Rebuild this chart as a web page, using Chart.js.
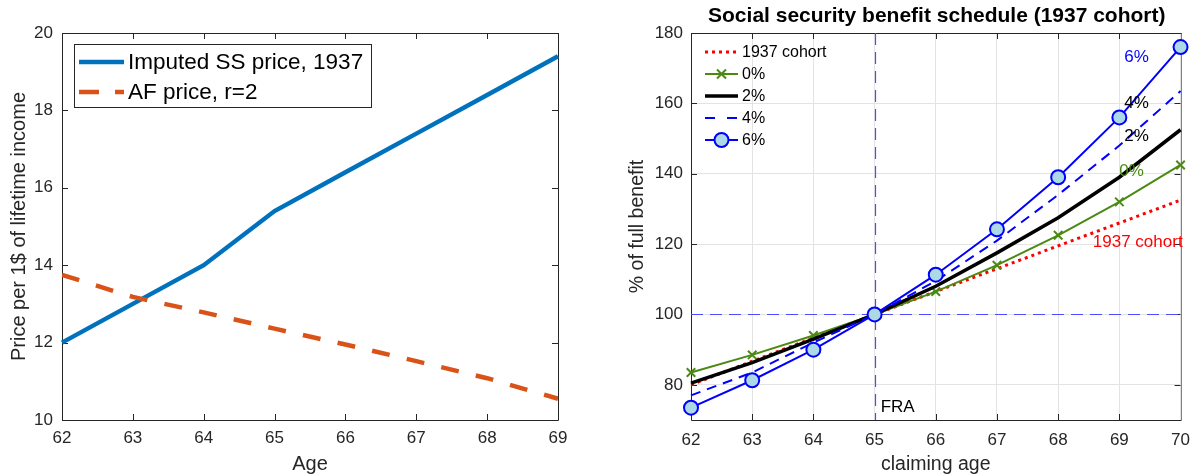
<!DOCTYPE html>
<html>
<head>
<meta charset="utf-8">
<script src="https://cdn.jsdelivr.net/npm/chart.js@4.4.0/dist/chart.umd.min.js"></script>
<style>
  body { margin: 0; background: #fff; }
  #wrap { position: relative; width: 1200px; height: 476px; }
  .panel { position: absolute; top: 0; width: 600px; height: 476px; }
</style>
</head>
<body>
<div id="wrap">
  <div class="panel" style="left:0"><canvas id="left" width="600" height="476"></canvas></div>
  <div class="panel" style="left:600px"><canvas id="right" width="600" height="476"></canvas></div>
</div>
<script>
// Left panel: price per 1$ of lifetime income
const ages = [62, 63, 64, 65, 66, 67, 68, 69];
const ssPrice = [12.0, 13.0, 14.0, 15.4, 16.4, 17.4, 18.4, 19.4];
const afPrice = [13.75, 13.18, 12.78, 12.36, 11.95, 11.52, 11.08, 10.55];

// Right panel: % of full benefit by claiming age
const claimAges = [62, 63, 64, 65, 66, 67, 68, 69, 70];
const cohort1937 = [80.0, 86.7, 93.3, 100, 106.5, 113.0, 119.5, 126.0, 132.5];
const rate0 = [83.5, 88.5, 94.0, 100, 106.5, 114.0, 122.5, 132.0, 142.5];
const rate2 = [80.5, 86.3, 93.0, 100, 108.0, 117.5, 127.5, 139.0, 152.5];
const rate4 = [77.0, 83.5, 92.0, 100, 109.5, 121.0, 134.0, 148.0, 163.5];
const rate6 = [73.5, 81.3, 90.0, 100, 111.3, 124.2, 139.0, 156.0, 176.0];
const benefitTicks = [80, 100, 120, 140, 160, 180];

const FONT = '"Liberation Sans", Arial, sans-serif';
const AXIS = '#262626';

const toXY = (xs, ys) => xs.map((x, i) => ({ x, y: ys[i] }));

/**
 * MATLAB-like box with inward tick marks
 */
const boxPlugin = {
  id: 'box',
  beforeDatasetsDraw(chart, args, opts) {
    const { ctx, chartArea: a, scales } = chart;
    ctx.save();
    ctx.lineWidth = 1;
    ctx.strokeStyle = AXIS;
    const len = 6;
    scales.x.ticks.forEach(t => {
      const px = Math.round(scales.x.getPixelForValue(t.value)) + 0.5;
      ctx.beginPath();
      ctx.moveTo(px, a.bottom); ctx.lineTo(px, a.bottom - len);
      ctx.moveTo(px, a.top); ctx.lineTo(px, a.top + len);
      ctx.stroke();
    });
    scales.y.ticks.forEach(t => {
      const py = Math.round(scales.y.getPixelForValue(t.value)) + 0.5;
      ctx.beginPath();
      ctx.moveTo(a.left, py); ctx.lineTo(a.left + len, py);
      ctx.moveTo(a.right, py); ctx.lineTo(a.right - len, py);
      ctx.stroke();
    });
    const l = Math.round(a.left) + 0.5, r = Math.round(a.right) + 0.5;
    const t = Math.round(a.top) + 0.5, b = Math.round(a.bottom) + 0.5;
    ctx.beginPath();
    ctx.moveTo(l, t); ctx.lineTo(l, b); ctx.lineTo(r, b);
    ctx.moveTo(l, t); ctx.lineTo(r, t);
    ctx.stroke();
    ctx.strokeStyle = opts.rightColor || AXIS;
    ctx.beginPath();
    ctx.moveTo(r, t); ctx.lineTo(r, b);
    ctx.stroke();
    ctx.restore();
  }
};

/**
 * Legend drawn inside the plot area
 */
const insideLegend = {
  id: 'insideLegend',
  afterDraw(chart, args, opts) {
    const { ctx } = chart;
    const items = opts.order.map(i => chart.data.datasets[i]);
    ctx.save();
    if (opts.frame) {
      ctx.fillStyle = '#fff';
      ctx.strokeStyle = AXIS;
      ctx.lineWidth = 1;
      ctx.fillRect(opts.frame[0], opts.frame[1], opts.frame[2], opts.frame[3]);
      ctx.strokeRect(opts.frame[0] + 0.5, opts.frame[1] + 0.5, opts.frame[2], opts.frame[3]);
    }
    ctx.font = `${opts.fontSize}px ${FONT}`;
    ctx.textBaseline = 'middle';
    items.forEach((ds, k) => {
      const y = opts.y0 + k * opts.dy;
      const x0 = opts.x0, x1 = opts.x0 + opts.lineLen;
      ctx.strokeStyle = ds.borderColor;
      ctx.lineWidth = ds.borderWidth;
      ctx.setLineDash(ds.legendDash || ds.borderDash || []);
      ctx.beginPath();
      ctx.moveTo(x0, y); ctx.lineTo(x1, y);
      ctx.stroke();
      ctx.setLineDash([]);
      if (ds.pointRadius > 0) {
        const r = ds.pointRadius, cx = (x0 + x1) / 2;
        ctx.fillStyle = ds.pointBackgroundColor;
        ctx.strokeStyle = ds.pointBorderColor;
        ctx.lineWidth = ds.pointBorderWidth || 1;
        ctx.beginPath();
        if (ds.pointStyle === 'circle') {
          ctx.arc(cx, y, r, 0, Math.PI * 2);
          ctx.fill();
          ctx.stroke();
        } else {
          const d = r * 0.75;
          ctx.moveTo(cx - d, y - d); ctx.lineTo(cx + d, y + d);
          ctx.moveTo(cx - d, y + d); ctx.lineTo(cx + d, y - d);
          ctx.stroke();
        }
      }
      ctx.fillStyle = '#000';
      ctx.fillText(ds.label, x1 + opts.gap, y + 1);
    });
    ctx.restore();
  }
};

/**
 * Reference lines, annotations and title for the benefit panel
 */
const annotations = {
  id: 'annotations',
  beforeDatasetsDraw(chart, args, opts) {
    const { ctx, chartArea: a, scales: { x, y } } = chart;
    ctx.save();
    ctx.strokeStyle = '#4d4dff';
    ctx.lineWidth = 1.2;
    ctx.setLineDash([12, 7]);
    const px = Math.round(x.getPixelForValue(opts.vline)) + 0.5;
    const py = Math.round(y.getPixelForValue(opts.hline)) + 0.5;
    ctx.beginPath();
    ctx.moveTo(px, a.top); ctx.lineTo(px, a.bottom);
    ctx.moveTo(a.left, py); ctx.lineTo(a.right, py);
    ctx.stroke();
    ctx.restore();
  },
  afterDraw(chart, args, opts) {
    const { ctx, chartArea: a, scales: { x, y } } = chart;
    ctx.save();
    ctx.font = `bold 21px ${FONT}`;
    ctx.fillStyle = '#000';
    ctx.textAlign = 'center';
    ctx.textBaseline = 'middle';
    ctx.fillText(opts.title, (a.left + a.right) / 2 + 1, 16);
    ctx.font = `17px ${FONT}`;
    opts.labels.forEach(lb => {
      ctx.fillStyle = lb.color;
      ctx.textAlign = lb.align || 'center';
      ctx.fillText(lb.text, x.getPixelForValue(lb.x), y.getPixelForValue(lb.y));
    });
    ctx.restore();
  }
};

const font = (size) => ({ family: FONT, size });

// ---------- Left chart ----------
new Chart(document.getElementById('left'), {
  type: 'line',
  data: {
    datasets: [{
      label: 'Imputed SS price, 1937',
      data: toXY(ages, ssPrice),
      borderColor: '#0072BD',
      borderWidth: 4.5,
      pointRadius: 0,
      order: 2,
      clip: false
    }, {
      label: 'AF price, r=2',
      data: toXY(ages, afPrice),
      borderColor: '#D95319',
      borderWidth: 4.5,
      borderDash: [18, 17.5],
      legendDash: [20, 16],
      pointRadius: 0,
      order: 1
    }]
  },
  options: {
    responsive: false,
    animation: false,
    devicePixelRatio: 1,
    layout: { padding: { top: 33, right: 42, left: 0, bottom: 0 } },
    plugins: {
      legend: { display: false },
      tooltip: { enabled: false },
      box: {},
      insideLegend: {
        order: [0, 1],
        frame: [74, 44, 297, 63],
        x0: 79, y0: 62, dy: 30, lineLen: 45, gap: 4, fontSize: 22.5
      }
    },
    scales: {
      x: {
        type: 'linear', min: 62, max: 69,
        ticks: { stepSize: 1, font: font(17), color: AXIS, padding: 8 },
        grid: { display: false, drawTicks: false },
        border: { display: false },
        title: { display: true, text: 'Age', font: font(20), color: AXIS, padding: { top: 0, bottom: 0 } },
        afterFit: (s) => { s.height = 56; }
      },
      y: {
        min: 10, max: 20,
        ticks: { stepSize: 2, font: font(17), color: AXIS, padding: 9 },
        grid: { display: false, drawTicks: false },
        border: { display: false },
        title: { display: true, text: 'Price per 1$ of lifetime income', font: font(20), color: AXIS, padding: { top: 7, bottom: 0 } },
        afterFit: (s) => { s.width = 62; }
      }
    }
  },
  plugins: [boxPlugin, insideLegend]
});

// ---------- Right chart ----------
new Chart(document.getElementById('right'), {
  type: 'line',
  data: {
    datasets: [{
      label: '1937 cohort',
      data: toXY(claimAges, cohort1937),
      borderColor: '#ff0000',
      borderWidth: 3,
      borderDash: [3, 4],
      pointRadius: 0,
      order: 5,
      clip: false
    }, {
      label: '0%',
      data: toXY(claimAges, rate0),
      borderColor: '#4a8a12',
      borderWidth: 2,
      pointStyle: 'crossRot',
      pointRadius: 6,
      pointBorderColor: '#4a8a12',
      pointBackgroundColor: '#4a8a12',
      pointBorderWidth: 2,
      order: 4,
      clip: false
    }, {
      label: '2%',
      data: toXY(claimAges, rate2),
      borderColor: '#000000',
      borderWidth: 3.5,
      pointRadius: 0,
      order: 3,
      clip: false
    }, {
      label: '4%',
      data: toXY(claimAges, rate4),
      borderColor: '#0000ff',
      borderWidth: 2,
      borderDash: [10, 7],
      legendDash: [10, 12],
      pointRadius: 0,
      order: 2,
      clip: false
    }, {
      label: '6%',
      data: toXY(claimAges, rate6),
      borderColor: '#0000ff',
      borderWidth: 2,
      pointStyle: 'circle',
      pointRadius: 7,
      pointBorderColor: '#0000ff',
      pointBackgroundColor: '#add8e6',
      pointBorderWidth: 2,
      order: 1,
      clip: false
    }]
  },
  options: {
    responsive: false,
    animation: false,
    devicePixelRatio: 1,
    layout: { padding: { top: 33, right: 12, left: 0, bottom: 0 } },
    plugins: {
      legend: { display: false },
      tooltip: { enabled: false },
      box: { rightColor: '#808080' },
      insideLegend: {
        order: [0, 1, 2, 3, 4],
        x0: 105, y0: 52, dy: 22, lineLen: 33, gap: 4, fontSize: 16
      },
      annotations: {
        vline: 65, hline: 100,
        title: 'Social security benefit schedule (1937 cohort)',
        labels: [
          { text: 'FRA', x: 65.1, y: 73.7, color: '#000', align: 'left' },
          { text: '6%', x: 69.28, y: 173.2, color: '#0000ff' },
          { text: '4%', x: 69.28, y: 160.1, color: '#000' },
          { text: '2%', x: 69.28, y: 150.7, color: '#000' },
          { text: '0%', x: 69.2, y: 140.8, color: '#4a8a12' },
          { text: '1937 cohort', x: 69.3, y: 120.6, color: '#ff0000' }
        ]
      }
    },
    scales: {
      x: {
        type: 'linear', min: 62, max: 70,
        ticks: { stepSize: 1, font: font(17), color: AXIS, padding: 10 },
        grid: { color: '#e3e3e3', drawTicks: false },
        border: { display: false },
        title: { display: true, text: 'claiming age', font: font(19.5), color: AXIS, padding: { top: 0, bottom: 0 } },
        afterFit: (s) => { s.height = 56; }
      },
      y: {
        min: 70, max: 180,
        afterBuildTicks: (s) => { s.ticks = benefitTicks.map(v => ({ value: v })); },
        ticks: { font: font(17), color: AXIS, padding: 8 },
        grid: { color: '#e3e3e3', drawTicks: false },
        border: { display: false },
        title: { display: true, text: '% of full benefit', font: font(19.5), color: AXIS, padding: { top: 26, bottom: 0 } },
        afterFit: (s) => { s.width = 91; }
      }
    }
  },
  plugins: [boxPlugin, annotations, insideLegend]
});
</script>
</body>
</html>
